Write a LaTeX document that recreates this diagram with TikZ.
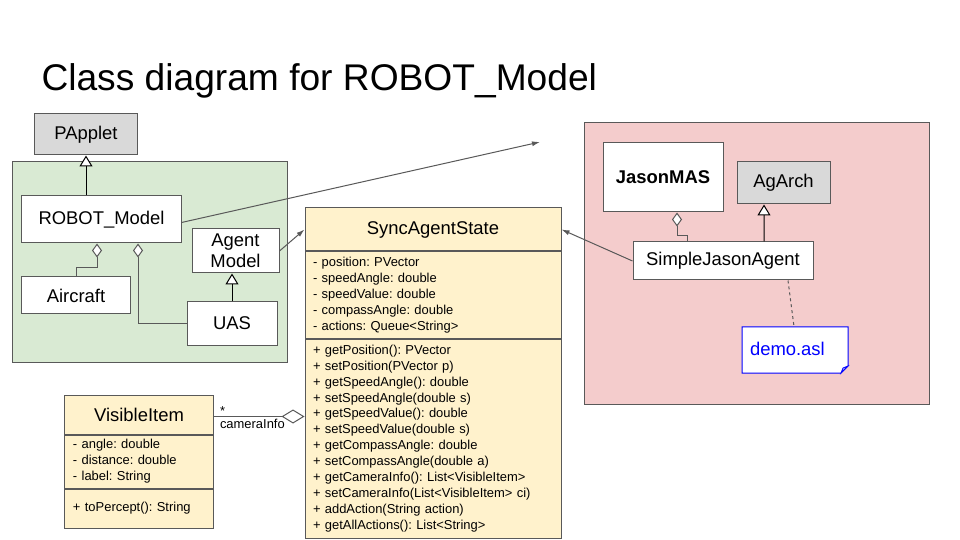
\documentclass[tikz,border=0pt]{standalone}
\usepackage{fontspec}
\setmainfont{Liberation Sans}
\usetikzlibrary{arrows.meta}
\definecolor{pkggreen}{HTML}{D9EAD3}
\definecolor{pkgpink}{HTML}{F4CCCC}
\definecolor{clsyellow}{HTML}{FFF2CC}
\definecolor{extgray}{HTML}{D9D9D9}
\definecolor{edge}{HTML}{595959}
\definecolor{noteblue}{HTML}{0000FF}
\frenchspacing

\begin{document}
\begin{tikzpicture}[x=1bp, y=-1bp, line width=1bp,
    box/.style={draw=edge, fill=white, inner sep=0, font=\fontsize{18.5}{21.5}\selectfont, align=center},
    ext/.style={box, fill=extgray},
    head/.style={box, fill=clsyellow},
    part/.style={draw=edge, fill=clsyellow, inner xsep=8bp, inner ysep=0, anchor=north west,
      font=\fontsize{13}{16}\selectfont, align=left},
    inherit/.style={draw=black, -{Triangle[length=11bp, width=13bp, fill=white]}},
    aggr/.style={draw=edge, {Diamond[length=14bp, width=10bp, fill=white]}-},
    link/.style={draw=edge, -{Latex[length=8bp, width=5bp]}}]
      \useasboundingbox (0,0) rectangle (960,540);
      \fill[white] (0,0) rectangle (960,540);

      \node[anchor=base west, inner sep=0, font=\fontsize{37.3}{42}\selectfont] (title) at (41,91) {Class diagram for ROBOT\_Model};

      % packages
      \draw[edge, fill=pkggreen] (12,162) rectangle (287,362);
      \draw[edge, fill=pkgpink] (584,123) rectangle (929,404);

      % ROBOT_Model side
      \node[ext, minimum width=102bp, minimum height=41bp] (papplet) at (86,134.5) {PApplet};
      \node[box, minimum width=159bp, minimum height=47bp] (robot) at (101.5,219.5) {ROBOT\_Model};
      \node[box, minimum width=87bp, minimum height=44bp] (agentmodel) at (235.5,251) {Agent\\Model};
      \node[box, minimum width=108bp, minimum height=37bp] (aircraft) at (76,295.5) {Aircraft};
      \node[box, minimum width=90bp, minimum height=43bp] (uas) at (232,323.5) {UAS};

      \draw[inherit] (papplet.south |- robot.north) -- (papplet.south);
      \draw[inherit] (uas.north) -- (uas.north |- agentmodel.south);
      \draw[aggr] ([xshift=-4.5bp]robot.south) -- ++(0,24) -| (aircraft.north);
      \draw[aggr] ([xshift=36.5bp]robot.south) |- (uas.west);

      % SyncAgentState
      \node[head, minimum width=256bp, minimum height=43bp] (sync) at (433,229.5) {SyncAgentState};
      \node[part, text width=240bp, minimum height=86bp] (syncattr) at (sync.south west) {- position: PVector\\
        - speedAngle: double\\
        - speedValue: double\\
        - compassAngle: double\\
        - actions: Queue<String>};
      \node[part, text width=240bp, minimum height=199bp] (syncmeth) at (syncattr.south west) {+ getPosition(): PVector\\
        + setPosition(PVector p)\\
        + getSpeedAngle(): double\\
        + setSpeedAngle(double s)\\
        + getSpeedValue(): double\\
        + setSpeedValue(double s)\\
        + getCompassAngle: double\\
        + setCompassAngle(double a)\\
        + getCameraInfo(): List<VisibleItem>\\
        + setCameraInfo(List<VisibleItem> ci)\\
        + addAction(String action)\\
        + getAllActions(): List<String>};

      % VisibleItem
      \node[head, minimum width=148bp, minimum height=39bp] (vihead) at (139,414.5) {VisibleItem};
      \node[part, text width=132bp, minimum height=53bp] (viattr) at (vihead.south west) {- angle: double\\
        - distance: double\\
        - label: String};
      \node[part, text width=132bp, minimum height=39bp] (vimeth) at (viattr.south west) {+ toPercept(): String};

      \draw[draw=edge, -{Diamond[length=23bp, width=14bp, fill=white]}] ([yshift=-2bp]vihead.east) -- ([yshift=-2bp]vihead.east -| syncmeth.west)
        node[pos=0, above right, inner sep=1bp, xshift=5bp, font=\fontsize{13}{15}\selectfont] {*}
        node[pos=0, below right, inner sep=2bp, xshift=4bp, font=\fontsize{13}{15}\selectfont] {cameraInfo};

      % Jason side
      \node[box, minimum width=120bp, minimum height=69bp, font=\fontsize{18.5}{21.5}\selectfont\bfseries] (jasonmas) at (663,177.5) {JasonMAS};
      \node[ext, minimum width=93bp, minimum height=42bp] (agarch) at (783.5,183) {AgArch};
      \node[box, minimum width=180bp, minimum height=38bp] (sja) at (723,261) {SimpleJasonAgent};

      \draw[aggr] ([xshift=14bp]jasonmas.south) -- ++(0,23) -| ([xshift=-36bp]sja.north);
      \draw[inherit] ([xshift=41bp]sja.north) -- ([xshift=-19.5bp]agarch.south);

      \draw[noteblue, fill=white] (742,327) -- (848,327) -- (848,366) -- (841,373) -- (742,373) -- cycle;
      \draw[noteblue, fill=noteblue!35, line width=0.8bp] (848,366) -- (843,368) -- (841,373) -- cycle;
      \node[inner xsep=8bp, inner ysep=0, text width=90bp, minimum height=46bp, align=left, text=noteblue,
        font=\fontsize{18.5}{21.5}\selectfont] (demo) at (795,350) {\raisebox{2bp}{demo.asl}};
      \draw[edge, dashed] ([xshift=65bp]sja.south) -- ([xshift=-1bp]demo.north);

      % links between packages
      \coordinate (outarrow) at (540,142);
      \draw[link] ([yshift=-3bp]robot.east) -- (outarrow);
      \draw[link] (agentmodel.east) -- (sync.west);
      \draw[link] (sja.west) -- (sync.east);
    \end{tikzpicture}
\end{document}
